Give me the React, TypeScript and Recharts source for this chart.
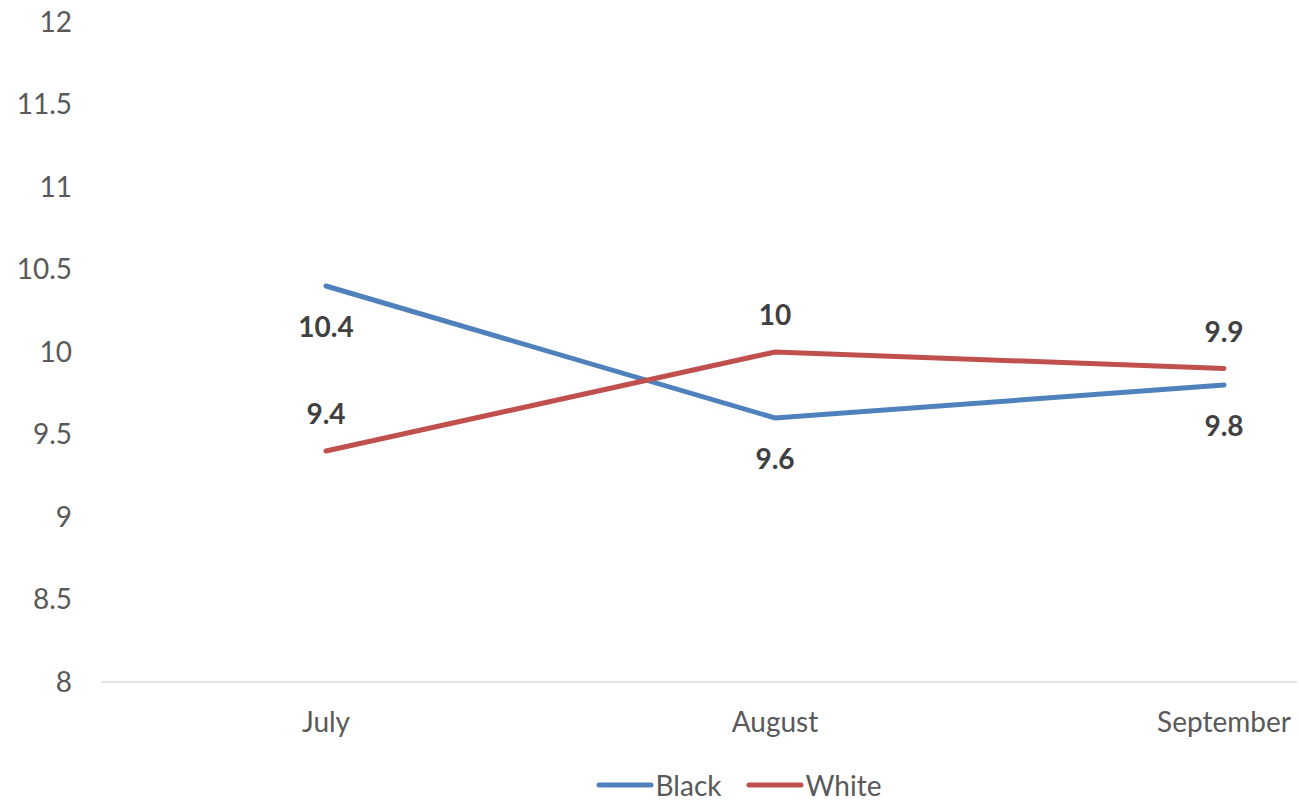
import React from 'react';
import { LineChart, Line, XAxis, YAxis, Legend, LabelList } from 'recharts';

const months = ['July', 'August', 'September'];
const blackValues = [10.4, 9.6, 9.8];
const whiteValues = [9.4, 10, 9.9];
const yTicks = [8, 8.5, 9, 9.5, 10, 10.5, 11, 11.5, 12];

const series = [
  { key: 'Black', color: '#4F81BD', labelOffset: 40 },
  { key: 'White', color: '#C0504D', labelOffset: -38 },
];

const data = months.map((m, i) => ({ month: m, Black: blackValues[i], White: whiteValues[i] }));

const FONT = 'Lato, "Liberation Sans", sans-serif';

const makeLabel = (offset: number) => (props: any) => {
  const { x, y, value } = props;
  return (
    <text
      x={x}
      y={y + offset}
      textAnchor="middle"
      dominantBaseline="central"
      fontFamily={FONT}
      fontSize={28}
      fontWeight="bold"
      fill="#404040"
    >
      {value}
    </text>
  );
};

const LegendContent = () => (
  <div
    style={{
      display: 'flex',
      justifyContent: 'center',
      alignItems: 'center',
      fontFamily: FONT,
      fontSize: 28,
      color: '#595959',
      height: 35,
      paddingLeft: 180,
    }}
  >
    {series.map((s, i) => (
      <div key={s.key} style={{ display: 'flex', alignItems: 'center', marginLeft: i ? 24 : 0 }}>
        <svg width={58} height={10}>
          <line x1={3} y1={5} x2={55} y2={5} stroke={s.color} strokeWidth={5} strokeLinecap="round" />
        </svg>
        <span style={{ marginLeft: 2 }}>{s.key}</span>
      </div>
    ))}
  </div>
);

export default function App() {
  return (
    <div style={{ position: 'absolute', left: 0, top: 0, background: '#fff' }}>
      <LineChart width={1299} height={802} data={data} margin={{ top: 22, right: 2, bottom: 0, left: 0 }}>
        <XAxis
          dataKey="month"
          padding={{ left: 224, right: 73 }}
          height={85}
          tickLine={false}
          tickSize={0}
          tickMargin={30}
          axisLine={{ stroke: '#D9D9D9', strokeWidth: 1.5 }}
          tick={{ fill: '#595959', fontSize: 28, fontFamily: FONT }}
        />
        <YAxis
          domain={[8, 12]}
          ticks={yTicks}
          width={102}
          axisLine={false}
          tickLine={false}
          tickSize={0}
          tickMargin={30}
          interval={0}
          tick={{ fill: '#595959', fontSize: 28, fontFamily: FONT }}
        />
        <Legend verticalAlign="bottom" height={35} content={<LegendContent />} />
        {series.map((s) => (
          <Line
            key={s.key}
            type="linear"
            dataKey={s.key}
            stroke={s.color}
            strokeWidth={5}
            strokeLinecap="round"
            dot={false}
            activeDot={false}
            isAnimationActive={false}
          >
            <LabelList dataKey={s.key} content={makeLabel(s.labelOffset)} />
          </Line>
        ))}
      </LineChart>
    </div>
  );
}
